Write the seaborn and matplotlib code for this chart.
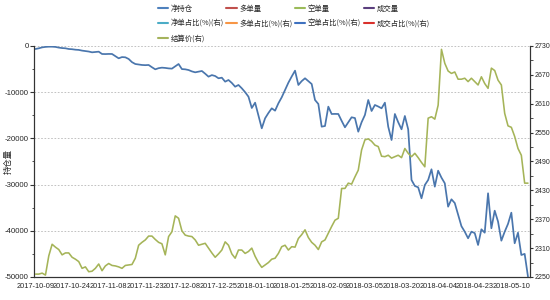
import matplotlib
matplotlib.use("Agg")
import matplotlib.pyplot as plt
from matplotlib.lines import Line2D
from matplotlib.ticker import MultipleLocator, FixedLocator
import seaborn as sns
import pandas as pd

# ---------------- data ----------------
tick_labels = ["2017-10-09", "2017-10-24", "2017-11-08", "2017-11-23", "2017-12-08",
               "2017-12-25", "2018-01-10", "2018-01-25", "2018-02-09", "2018-03-05",
               "2018-03-20", "2018-04-04", "2018-04-23", "2018-05-10"]

right_ticks = [2250, 2310, 2370, 2430, 2490, 2550, 2610, 2670, 2730]
left_ticks = [-50000, -40000, -30000, -20000, -10000, 0]

net_position = [
    -650, -500, -300, -200, -150, -150, -200, -350, -450, -500,
    -650, -700, -800, -850, -1000, -1100, -1200, -1370, -1300, -1230,
    -1730, -1750, -1720, -1730, -2200, -2670, -2400, -2450, -2810, -3500,
    -3900, -4000, -4110, -4150, -4110, -4600, -5050, -4800, -4690, -4750,
    -4850, -4900, -4400, -3900, -5000, -5050, -5200, -5500, -5700, -5560,
    -5410, -6000, -6640, -6300, -6500, -6990, -6860, -7720, -7360, -8000,
    -8810, -8440, -9160, -10000, -10970, -13420, -12270, -15000, -17820, -15650,
    -14500, -13490, -14000, -12400, -11100, -9500, -7940, -6600, -5340, -8440,
    -7600, -6990, -7600, -8230, -11690, -12550, -17460, -17320, -13130, -14720,
    -14700, -14720, -16200, -17600, -16500, -15430, -15600, -18550, -16500, -14930,
    -11690, -14070, -12770, -13100, -13490, -12270, -17460, -20350, -14720, -16500,
    -18030, -15150, -18030, -29000, -30300, -30590, -32970, -30090, -29000, -26690,
    -30450, -26990, -28500, -29720, -34780, -33180, -34000, -36500, -39000, -40200,
    -41620, -40190, -40500, -43070, -39680, -40410, -31880, -39460, -35650, -38000,
    -42140, -40200, -38500, -36080, -42700, -40410, -45240, -45000, -49930,
]

settle_price = [
    2256, 2256, 2258, 2254, 2294, 2318, 2312, 2307, 2296, 2300,
    2300, 2291, 2287, 2282, 2268, 2271, 2261, 2262, 2268, 2277,
    2263, 2273, 2278, 2274, 2273, 2271, 2268, 2274, 2275, 2276,
    2289, 2316, 2322, 2327, 2335, 2335, 2328, 2322, 2319, 2296,
    2334, 2344, 2377, 2372, 2346, 2337, 2335, 2334, 2327, 2316,
    2318, 2320, 2310, 2300, 2291, 2298, 2306, 2323, 2316, 2298,
    2289, 2306, 2306, 2299, 2303, 2310, 2293, 2280, 2270, 2275,
    2280, 2287, 2289, 2299, 2313, 2316, 2306, 2313, 2312, 2330,
    2338, 2348, 2332, 2322, 2316, 2307, 2323, 2327, 2341, 2355,
    2368, 2372, 2434, 2434, 2445, 2443, 2458, 2472, 2514, 2535,
    2537, 2532, 2524, 2521, 2501, 2500, 2503, 2497, 2500, 2503,
    2498, 2517, 2507, 2500, 2507, 2498, 2488, 2479, 2580, 2583,
    2578, 2607, 2723, 2694, 2678, 2673, 2676, 2661, 2661, 2663,
    2656, 2663, 2656, 2649, 2666, 2652, 2642, 2684, 2679, 2659,
    2649, 2590, 2564, 2561, 2542, 2517, 2503, 2445, 2445,
]

legend_labels = ["净持仓", "多单量", "空单量", "成交量",
                 "净单占比(%)(右)", "多单占比(%)(右)", "空单占比(%)(右)", "成交占比(%)(右)",
                 "结算价(右)"]

# ---------------- style ----------------
sns.set_style("white")
plt.rcParams["font.family"] = ["Liberation Sans", "Noto Sans CJK SC", "DejaVu Sans"]
plt.rcParams["axes.unicode_minus"] = False

BLUE = "#4a76ad"
GREEN = "#a5b458"
legend_colors = ["#4f81bd", "#c0504d", "#9bbb59", "#5b3f7e",
                 "#4bacc6", "#f79646", "#3f72c0", "#d9302c",
                 "#a5b35c"]

df = pd.DataFrame({"idx": range(len(net_position)),
                   "net": net_position,
                   "price": settle_price})

fig = plt.figure(figsize=(5.5, 3.0), dpi=100)
ax = fig.add_axes([0.0627, 0.0767, 0.9009, 0.77])
ax2 = ax.twinx()

sns.lineplot(data=df, x="idx", y="net", ax=ax, color=BLUE, linewidth=1.25)
sns.lineplot(data=df, x="idx", y="price", ax=ax2, color=GREEN, linewidth=1.15)

ax.set_xlim(-0.3, 148.6)
ax.set_ylim(left_ticks[0], left_ticks[-1])
ax2.set_ylim(right_ticks[0], right_ticks[-1])

ax.set_xticks(range(0, 11 * len(tick_labels), 11))
ax.set_xticklabels(tick_labels)
ax.yaxis.set_major_locator(FixedLocator(left_ticks))
ax.yaxis.set_minor_locator(MultipleLocator(5000))
ax2.yaxis.set_major_locator(FixedLocator(right_ticks))
ax2.yaxis.set_minor_locator(FixedLocator([t + 30 for t in right_ticks[:-1]]))

ax.set_xlabel("")
ax.set_ylabel("持仓量", family=["Noto Sans CJK SC"], fontsize=6)
ax.yaxis.set_label_coords(-0.044, 0.5)
ax2.set_ylabel("")

for a in (ax, ax2):
    a.tick_params(axis="both", which="major", length=3, width=0.8, color="#333333",
                  labelsize=5.6, pad=1.2, direction="out")
    a.tick_params(axis="y", which="minor", length=1.8, width=0.6, color="#333333", direction="out")
    for s in a.spines.values():
        s.set_color("#333333")
        s.set_linewidth(0.8)
    a.spines["top"].set_visible(False)
ax.tick_params(axis="x", labelsize=5.3, pad=1.5)
ax.tick_params(axis="y", left=True, which="both")
ax2.tick_params(axis="y", right=True, which="both", labelsize=5.0, length=2.5, pad=0.8)

# dashed grid at left major ticks
for v in left_ticks[1:]:
    ax.axhline(v, color="#b8b8b8", linestyle=(0, (2, 2)), linewidth=0.6, zorder=0)

handles = [Line2D([], [], color=c, linewidth=1.5) for c in legend_colors]
order = [0, 4, 8, 1, 5, 2, 6, 3, 7]
fig.legend([handles[i] for i in order], [legend_labels[i] for i in order],
           loc="upper left", bbox_to_anchor=(0.287, 0.985), ncol=4, frameon=False,
           prop={"family": ["Noto Sans CJK SC"], "size": 5.3},
           handlelength=1.4, handletextpad=0.35, columnspacing=0.35,
           labelspacing=0.95, borderaxespad=0, borderpad=0)

fig.savefig("out.png", dpi=100)
